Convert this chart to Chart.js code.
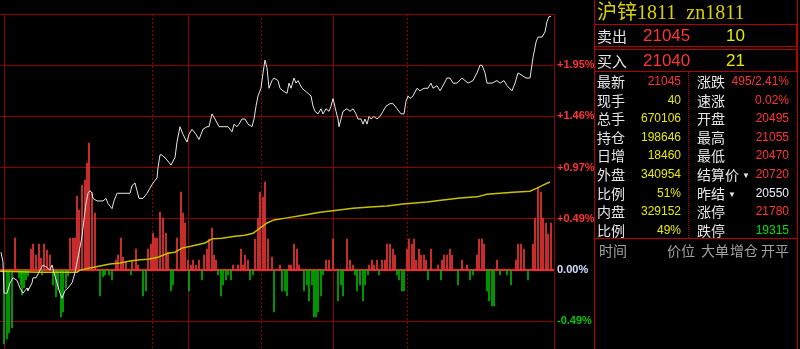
<!DOCTYPE html>
<html lang="zh-CN">
<head>
<meta charset="UTF-8">
<title>沪锌1811 分时</title>
<script src="https://cdn.jsdelivr.net/npm/chart.js"></script>
<style>
    body { margin: 0; background: #000; width: 800px; height: 349px; overflow: hidden; position: relative;
           font-family: "Liberation Sans", Arial, "Noto Sans CJK SC", sans-serif; }
    #wrap { position: absolute; left: 0; top: 0; width: 595px; height: 349px; }
    #panel { position: absolute; left: 594px; top: 0; width: 202px; height: 349px;
             border-left: 1px solid #b40000; border-right: 1px solid #b40000; }
    #title { position: absolute; left: 2px; top: 0; height: 24px; line-height: 24px; font-size: 20px;
             color: #d8d000; font-family: "Liberation Serif", "Noto Sans CJK SC", serif; white-space: pre; }
    .box { position: absolute; left: -1px; width: 201px; height: 21px; border: 1px solid #b40000; }
    .box span { position: absolute; top: 0; line-height: 21px; white-space: nowrap; }
    .lbl { color: #e6e6e6; font-family: "Noto Sans CJK SC", sans-serif; font-size: 14px; }
    .box .lbl { font-size: 15px; }
    .big { font-size: 17px; }
    .row { position: absolute; height: 18px; line-height: 18px; white-space: nowrap; }
    .val { position: absolute; top: 0; font-size: 12px; text-align: right; }
    .red { color: #ff3434; }
    .yel { color: #e8e800; }
    .wht { color: #f0f0ff; }
    .grn { color: #00e000; }
    .tri { font-size: 8px; color: #e6e6e6; vertical-align: 2px; margin-left: 3px; }
    #sep { position: absolute; left: 93px; top: 72px; height: 166px; border-left: 1px dotted #b40000; }
    #line2 { position: absolute; left: 0; top: 238px; width: 202px; border-top: 1px solid #b40000; }
    .hd { position: absolute; top: 241px; line-height: 18px; font-size: 14px; color: #a0a0a0;
          font-family: "Noto Sans CJK SC", sans-serif; }
</style>
</head>
<body>
<div id="wrap"><canvas id="fenshi" width="595" height="349"></canvas></div>
<div id="panel">
    <div id="title">沪锌1811  zn1811</div>
    <div class="box" style="top:24px"><span class="lbl" style="left:2px">卖出</span><span class="big red" style="left:48px">21045</span><span class="big yel" style="left:131px">10</span></div>
    <div class="box" style="top:49px"><span class="lbl" style="left:2px">买入</span><span class="big red" style="left:48px">21040</span><span class="big yel" style="left:131px">21</span></div>
    <div id="sep"></div>
    <div id="rows"></div>
    <div id="line2"></div>
    <span class="hd" style="left:4px">时间</span>
    <span class="hd" style="left:72px">价位</span>
    <span class="hd" style="left:106px">大单</span>
    <span class="hd" style="left:135px">增仓</span>
    <span class="hd" style="left:166px">开平</span>
</div>

<script>
    // 昨结算
    const prevSettle = 20550;

    // 分时价格 (x = 时间位置)
    const priceX = [1, 3, 4, 7, 10, 13, 17, 20, 23, 25, 27, 28, 32, 33, 36, 40, 43, 47, 50, 52, 54, 57, 60, 62, 65, 68, 72, 75, 77, 79,
        82, 84, 86, 88, 90, 92, 93, 97, 100, 103, 106, 108, 112, 114, 117, 120, 125, 130, 132, 135, 137, 139, 143, 147, 150, 153, 157, 158, 160, 162,
        167, 171, 175, 177, 180, 183, 187, 189, 192, 196, 199, 203, 207, 209, 212, 215, 219, 225, 228, 232, 234, 237, 239, 242, 245, 248, 252, 254, 256, 258,
        261, 263, 265, 267, 269, 272, 274, 278, 280, 283, 287, 289, 291, 294, 296, 298, 302, 305, 308, 311, 313, 315, 318, 321, 323, 326, 329, 331, 333, 336,
        338, 339, 341, 343, 347, 350, 353, 356, 358, 361, 363, 365, 367, 369, 371, 374, 377, 380, 383, 386, 390, 393, 397, 401, 404, 406, 408, 410, 413, 417,
        420, 424, 428, 431, 433, 437, 440, 443, 447, 450, 453, 457, 462, 465, 468, 473, 477, 480, 482, 485, 487, 492, 497, 500, 504, 507, 512, 515, 518, 522,
        526, 530, 533, 536, 538, 542, 545, 547, 549, 551];
    const price = [20585, 20565, 20505, 20505, 20525, 20535, 20530, 20515, 20505, 20510, 20515, 20510, 20525, 20535, 20535, 20550, 20560, 20555, 20550, 20560, 20545, 20525, 20505, 20495, 20510, 20515, 20525, 20545, 20565, 20585,
        20615, 20650, 20680, 20700, 20705, 20700, 20690, 20685, 20685, 20685, 20690, 20680, 20670, 20685, 20700, 20700, 20700, 20700, 20715, 20720, 20705, 20690, 20690, 20700, 20710, 20720, 20730, 20750, 20775, 20775,
        20765, 20755, 20770, 20800, 20830, 20815, 20800, 20815, 20825, 20815, 20805, 20825, 20830, 20830, 20855, 20845, 20830, 20830, 20830, 20820, 20835, 20830, 20835, 20845, 20845, 20835, 20830, 20845, 20870, 20890,
        20905, 20935, 20960, 20945, 20905, 20920, 20925, 20920, 20905, 20900, 20895, 20915, 20905, 20925, 20915, 20920, 20905, 20900, 20895, 20890, 20870, 20860, 20855, 20865, 20855, 20865, 20860, 20870, 20885, 20860,
        20845, 20830, 20845, 20860, 20865, 20860, 20865, 20855, 20845, 20845, 20835, 20845, 20835, 20850, 20845, 20850, 20845, 20850, 20860, 20870, 20875, 20875, 20865, 20855, 20855, 20880, 20890, 20885, 20890, 20905,
        20900, 20905, 20905, 20915, 20905, 20910, 20900, 20910, 20925, 20925, 20915, 20915, 20925, 20920, 20915, 20920, 20935, 20950, 20950, 20935, 20915, 20915, 20920, 20915, 20920, 20910, 20900, 20915, 20935, 20930,
        20925, 20925, 20965, 20995, 21005, 21005, 21015, 21035, 21045, 21045];

    // 均价线
    const avgX = [0, 40, 77, 80, 90, 100, 110, 120, 130, 140, 148, 158, 168, 175, 182, 192, 205, 212, 222, 235, 245, 253, 260, 267, 274,
        287, 303, 320, 337, 353, 370, 387, 403, 415, 427, 443, 460, 477, 487, 500, 513, 530, 537, 543, 550];
    const avgPrice = [20548, 20546, 20546, 20550, 20554, 20558, 20562, 20564, 20568, 20570, 20571, 20575, 20583, 20585, 20593, 20597, 20603, 20611, 20612, 20616, 20618, 20622, 20632, 20642, 20648,
        20652, 20657, 20663, 20667, 20671, 20673, 20675, 20679, 20681, 20683, 20687, 20691, 20693, 20698, 20700, 20702, 20704, 20710, 20716, 20722];

    // 红绿柱 (正=红, 负=绿)
    const barX = [4, 7, 9, 12, 15, 19, 21, 22, 24, 26, 28, 31, 33, 36, 39, 41, 42, 44, 47, 50, 53, 56, 58, 61, 63, 66, 68, 70, 73, 75,
        77, 79, 82, 85, 87, 89, 92, 95, 100, 103, 105, 109, 112, 116, 118, 121, 123, 126, 131, 132, 136, 138, 143, 146, 148, 151, 153, 155, 157, 160,
        163, 166, 168, 171, 173, 177, 181, 183, 185, 188, 189, 191, 193, 196, 199, 202, 204, 207, 209, 212, 214, 216, 218, 221, 223, 226, 228, 231, 233, 238,
        241, 243, 245, 248, 250, 253, 255, 258, 260, 263, 265, 268, 272, 274, 280, 282, 285, 287, 289, 291, 294, 297, 299, 304, 307, 309, 312, 314, 316, 318,
        321, 323, 326, 329, 333, 338, 341, 343, 347, 350, 353, 355, 357, 360, 363, 365, 368, 369, 372, 374, 377, 379, 382, 385, 387, 390, 393, 395, 397, 399,
        402, 404, 407, 409, 412, 414, 416, 419, 421, 424, 426, 428, 431, 438, 441, 442, 444, 447, 450, 452, 458, 462, 467, 470, 473, 477, 479, 482, 484, 487,
        489, 492, 494, 497, 500, 507, 511, 516, 518, 521, 524, 528, 533, 535, 538, 541, 543, 546, 548, 551];
    const barVol = [-740, -690, -630, -580, 320, -80, -150, -250, -180, -100, -60, 210, 260, 150, 260, 120, -50, 260, 200, 150, -150, -270, -200, -470, -420, -180, -60, 320, 320, 320,
        740, 600, 850, 900, 1070, 1270, 780, 570, -260, -70, -50, -50, -100, 100, 150, 320, 130, 80, -50, 100, 210, 50, -260, -210, 210, 260, 370, 320, 320, 580,
        520, 370, 180, -210, -150, 320, 780, 570, 470, 100, -210, 50, 100, 50, 100, -100, 150, 210, 310, 420, 150, 100, -50, -260, -150, -100, -50, -100, 50, 50,
        210, 50, 150, 100, -100, -50, 310, 520, 780, 730, 880, 310, 130, -420, 50, -210, -210, -260, 50, 50, 260, 210, 50, -210, -150, -310, -150, -470, -470, -420,
        -260, -50, 100, 100, 310, -310, -150, -260, 310, 100, 50, -50, -210, -150, -310, -150, -50, 50, 100, 50, 100, -50, 100, 100, 260, 260, 210, 150, -50, -100,
        -210, -210, 210, 310, 260, 310, 100, 210, 150, 150, 100, -100, 210, 50, -100, 100, 150, 150, 210, 150, -150, 100, 50, -100, -50, 150, 310, 310, 260, -210,
        -310, -360, -360, 100, -50, -50, -150, 100, 260, 260, 210, -100, 260, 520, 830, 780, 520, 470, 360, 470];

    // 纵轴刻度 (每100点)
    const priceTicks = [20450, 20550, 20650, 20750, 20850, 20950, 21050];
    // 时间分隔线
    const solidTimeLines = [4, 188, 333];
    const dottedTimeLines = [152, 261, 407];

    // 右侧行情
    const leftRows = [['最新', '21045', 'red'], ['现手', '40', 'yel'], ['总手', '670106', 'yel'], ['持仓', '198646', 'yel'], ['日增', '18460', 'yel'],
        ['外盘', '340954', 'yel'], ['比例', '51%', 'yel'], ['内盘', '329152', 'yel'], ['比例', '49%', 'yel']];
    const rightRows = [['涨跌', '495/2.41%', 'red'], ['速涨', '0.02%', 'red'], ['开盘', '20495', 'red'], ['最高', '21055', 'red'], ['最低', '20470', 'red'],
        ['结算价', '20720', 'red', true], ['昨结', '20550', 'wht', true], ['涨停', '21780', 'red'], ['跌停', '19315', 'grn']];

    let html = '';
    leftRows.forEach((r, i) => {
        const top = 72 + i * 18.6;
        html += `<div class="row" style="left:2px;top:${top}px;width:84px"><span class="lbl">${r[0]}</span><span class="val ${r[2]}" style="right:0">${r[1]}</span></div>`;
    });
    rightRows.forEach((r, i) => {
        const top = 72 + i * 18.6;
        const tri = r[3] ? '<span class="tri">▼</span>' : '';
        html += `<div class="row" style="left:102px;top:${top}px;width:92px"><span class="lbl">${r[0]}</span>${tri}<span class="val ${r[2]}" style="right:0">${r[1]}</span></div>`;
    });
    document.getElementById('rows').innerHTML = html;

    const toXY = (xs, ys) => xs.map((x, i) => ({ x: x, y: ys[i] }));
    const gridRed = '#8c0000';

    const config = {
        type: 'line',
        data: {
            datasets: [{
                type: 'line',
                label: '价格',
                data: toXY(priceX, price),
                borderColor: '#e6e6e6',
                borderWidth: 1,
                pointRadius: 0,
                yAxisID: 'y',
                order: 1
            }, {
                type: 'line',
                label: '均价',
                data: toXY(avgX, avgPrice),
                borderColor: '#c8c000',
                borderWidth: 1.5,
                pointRadius: 0,
                yAxisID: 'y',
                order: 2
            }, {
                type: 'bar',
                label: '增仓',
                data: toXY(barX, barVol),
                backgroundColor: c => (c.raw && c.raw.y < 0) ? '#00b400' : '#ee3636',
                barThickness: 1,
                yAxisID: 'yv',
                order: 3
            }]
        },
        options: {
            responsive: false,
            animation: false,
            layout: { padding: { top: 14, left: 0, right: 0, bottom: 0 } },
            plugins: { legend: { display: false }, tooltip: { enabled: false } },
            scales: {
                x: {
                    type: 'linear', min: 0, max: 554, offset: false,
                    ticks: { display: false },
                    grid: { color: gridRed, drawTicks: false, offset: false },
                    border: { display: false },
                    afterBuildTicks: s => { s.ticks = solidTimeLines.map(v => ({ value: v })); },
                    afterFit: s => { s.height = 0; s.paddingLeft = 0; s.paddingRight = 0; }
                },
                x2: {
                    type: 'linear', min: 0, max: 554, position: 'bottom', offset: false,
                    ticks: { display: false },
                    grid: { color: gridRed, drawTicks: false, offset: false },
                    border: { display: false, dash: [2, 2] },
                    afterBuildTicks: s => { s.ticks = dottedTimeLines.map(v => ({ value: v })); },
                    afterFit: s => { s.height = 0; s.paddingLeft = 0; s.paddingRight = 0; }
                },
                y: {
                    position: 'right', min: 20396, max: 21050,
                    grid: {
                        color: c => c.tick.value === prevSettle ? '#ff2222' : gridRed,
                        lineWidth: c => c.tick.value === prevSettle ? 2 : 1,
                        drawTicks: false
                    },
                    border: { color: gridRed },
                    ticks: {
                        padding: 3,
                        font: { family: 'Liberation Sans', size: 11, weight: 'bold' },
                        color: c => c.tick.value > prevSettle ? '#ff3434' : (c.tick.value < prevSettle ? '#00c800' : '#d0e0ff'),
                        callback: v => {
                            if (v >= 21050) return '';
                            const pct = (v - prevSettle) / prevSettle * 100;
                            return (pct > 0.001 ? '+' : '') + pct.toFixed(2) + '%';
                        }
                    },
                    afterBuildTicks: s => { s.ticks = priceTicks.map(v => ({ value: v })); },
                    afterFit: s => { s.width = 41; s.paddingTop = 0; s.paddingBottom = 0; }
                },
                yv: { display: false, min: -790, max: 2560 }
            }
        }
    };

    const ctx = document.getElementById('fenshi').getContext('2d');
    const fenshiChart = new Chart(ctx, config);
</script>
</body>
</html>
